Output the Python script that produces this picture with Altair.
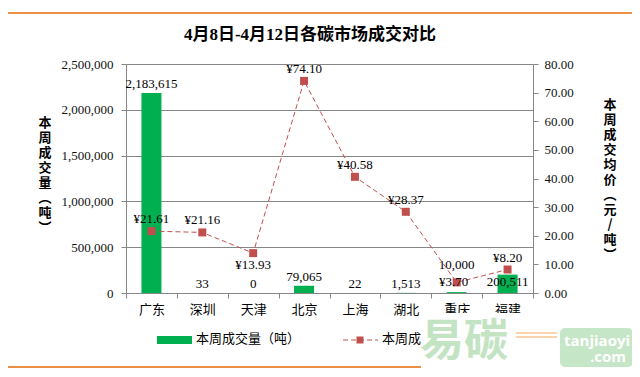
import altair as alt
import pandas as pd

categories = ["广东", "深圳", "天津", "北京", "上海", "湖北", "重庆", "福建"]
volumes = [2183615, 33, 0, 79065, 22, 1513, 10000, 200511]
prices = [21.61, 21.16, 13.93, 74.10, 40.58, 28.37, 3.70, 8.20]
vol_ticks = [0, 500000, 1000000, 1500000, 2000000, 2500000]
price_ticks = [0, 10, 20, 30, 40, 50, 60, 70, 80]

df = pd.DataFrame({"cat": categories, "vol": volumes, "price": prices})
df["vol_label"] = [f"{v:,}" for v in volumes]
df["price_label"] = [f"¥{p:.2f}" for p in prices]

SERIF = "Liberation Serif, Noto Sans CJK SC"
CJK = "Noto Sans CJK SC"
GRAY = "#868686"
RED = "#C0504D"
GREEN = "#00B050"

x_axis = alt.Axis(title=None, labelFont=CJK, labelFontSize=13, labelColor="#000",
                  labelPadding=5, tickBand="extent", tickSize=5, tickColor=GRAY,
                  domainColor=GRAY, labelAngle=0, grid=False, zindex=0)
x_enc = alt.X("cat:N", sort=categories,
              scale=alt.Scale(domain=categories, paddingInner=0, paddingOuter=0),
              axis=x_axis)

y_vol = alt.Y("vol:Q", scale=alt.Scale(domain=[0, 2500000]),
              axis=alt.Axis(values=vol_ticks, labelExpr="format(datum.value, ',')", title=None,
                            labelFont="Liberation Serif", labelFontSize=13, labelColor="#111",
                            grid=True, gridColor=GRAY, domainColor=GRAY, tickColor=GRAY,
                            tickSize=5, labelPadding=8, zindex=0))
y_price = alt.Y("price:Q", scale=alt.Scale(domain=[0, 80]),
                axis=alt.Axis(orient="right", values=price_ticks,
                              labelExpr="format(datum.value, '.2f')", title=None,
                              labelFont="Liberation Serif", labelFontSize=13, labelColor="#111",
                              grid=False, domainColor=GRAY, tickColor=GRAY,
                              tickSize=5, labelPadding=6, zindex=0))

base = alt.Chart(df)

bars = base.mark_bar(size=20, color=GREEN).encode(x=x_enc, y=y_vol)
txt_kw = dict(font=SERIF, fontSize=13, color="#000")
bar_txt_a = base.mark_text(baseline="bottom", dy=-2, **txt_kw).encode(
    x=x_enc, y=y_vol, text="vol_label:N").transform_filter(
    alt.FieldOneOfPredicate(field="cat", oneOf=categories[:6]))
bar_txt_b = base.mark_text(baseline="bottom", dy=-20, **txt_kw).encode(
    x=x_enc, y=y_vol, text="vol_label:N").transform_filter(
    alt.FieldEqualPredicate(field="cat", equal="重庆"))
bar_txt_c = base.mark_text(baseline="middle", dy=7, **txt_kw).encode(
    x=x_enc, y=y_vol, text="vol_label:N").transform_filter(
    alt.FieldEqualPredicate(field="cat", equal="福建"))
left = alt.layer(bars, bar_txt_a, bar_txt_b, bar_txt_c)

line = base.mark_line(color=RED, strokeDash=[5, 3], strokeWidth=1).encode(x=x_enc, y=y_price)
pts = base.mark_point(shape="square", filled=True, size=64, color=RED, opacity=1).encode(
    x=x_enc, y=y_price)
above = [c for c in categories if c not in ("天津", "重庆")]
p_txt_a = base.mark_text(baseline="bottom", dy=-5, **txt_kw).encode(
    x=x_enc, y=y_price, text="price_label:N").transform_filter(
    alt.FieldOneOfPredicate(field="cat", oneOf=above))
p_txt_b = base.mark_text(baseline="top", dy=6, **txt_kw).encode(
    x=x_enc, y=y_price, text="price_label:N").transform_filter(
    alt.FieldEqualPredicate(field="cat", equal="天津"))
p_txt_c = base.mark_text(baseline="middle", dx=-3, **txt_kw).encode(
    x=x_enc, y=y_price, text="price_label:N").transform_filter(
    alt.FieldEqualPredicate(field="cat", equal="重庆"))
right = alt.layer(line, pts, p_txt_a, p_txt_b, p_txt_c)


def deco():
    return alt.Chart(pd.DataFrame({"k": [0]}))


border = deco().mark_rect(fillOpacity=0, stroke="#E46C0A", strokeWidth=1.5).encode(
    x=alt.value(-119), x2=alt.value(510), y=alt.value(-51), y2=alt.value(303))
title = deco().mark_text(text="4月8日-4月12日各碳市场成交对比", font=SERIF, fontSize=17,
                         fontWeight="bold", color="#000", align="center", baseline="middle").encode(
    x=alt.value(184), y=alt.value(-29))
ytl = deco().mark_text(text="本\n周\n成\n交\n量\n︵\n吨\n︶", lineBreak="\n", lineHeight=15,
                       font=CJK, fontSize=13, fontWeight="bold", color="#000",
                       align="center", baseline="top").encode(x=alt.value(-81), y=alt.value(53))
ytr = deco().mark_text(text="本\n周\n成\n交\n均\n价\n︵\n元\n/\n吨\n︶", lineBreak="\n", lineHeight=15,
                       font=CJK, fontSize=13, fontWeight="bold", color="#000",
                       align="center", baseline="top").encode(x=alt.value(484), y=alt.value(35))

leg_rect = deco().mark_rect(color=GREEN).encode(
    x=alt.value(31), x2=alt.value(66), y=alt.value(272), y2=alt.value(280))
leg_t1 = deco().mark_text(text="本周成交量（吨）", font=CJK, fontSize=13, color="#000",
                          align="left", baseline="middle").encode(x=alt.value(70), y=alt.value(275))
leg_line = deco().mark_rule(color=RED, strokeDash=[5, 3], strokeWidth=1).encode(
    x=alt.value(217), x2=alt.value(252), y=alt.value(276))
leg_pt = deco().mark_point(shape="square", filled=True, size=49, color=RED, opacity=1).encode(
    x=alt.value(234), y=alt.value(276))
leg_t2 = deco().mark_text(text="本周成交均价（元/吨）", font=CJK, fontSize=13, color="#000",
                          align="left", baseline="middle").encode(x=alt.value(256), y=alt.value(275))

cover = deco().mark_rect(color="white").encode(
    x=alt.value(295), x2=alt.value(520), y=alt.value(249), y2=alt.value(320))
logo_t = deco().mark_text(text="易碳", font=CJK, fontSize=44, fontWeight="bold", color="#C3E4C3",
                          align="left", baseline="middle").encode(x=alt.value(294), y=alt.value(279))
orn1 = deco().mark_rule(color="#F5A65B", strokeWidth=1).encode(
    x=alt.value(390), x2=alt.value(431), y=alt.value(269))
orn2 = deco().mark_rule(color="#F5A65B", strokeWidth=1).encode(
    x=alt.value(390), x2=alt.value(431), y=alt.value(273))
logo_box = deco().mark_rect(color="#C6E6C8", cornerRadius=5).encode(
    x=alt.value(434), x2=alt.value(507), y=alt.value(264), y2=alt.value(303))
logo_t2 = deco().mark_text(text="tanjiaoyi", font="Open Sans", fontSize=15, fontWeight="bold",
                           color="white", align="center", baseline="middle").encode(
    x=alt.value(471), y=alt.value(277))
logo_t3 = deco().mark_text(text=".com", font="Open Sans", fontSize=15, fontWeight="bold",
                           color="white", align="center", baseline="middle").encode(
    x=alt.value(482), y=alt.value(293))

chart = alt.layer(
    border, title, ytl, ytr, left, right,
    leg_rect, leg_t1, leg_line, leg_pt, leg_t2,
    cover, logo_t, orn1, orn2, logo_box, logo_t2, logo_t3,
).resolve_scale(y="independent").properties(
    width=407, height=229,
    autosize=alt.AutoSizeParams(type="none"),
    padding={"left": 118, "top": 56, "right": 99, "bottom": 76},
).configure_view(stroke=None).configure(background="white")

chart.save("out.html", embed_options={"renderer": "svg", "actions": False})
